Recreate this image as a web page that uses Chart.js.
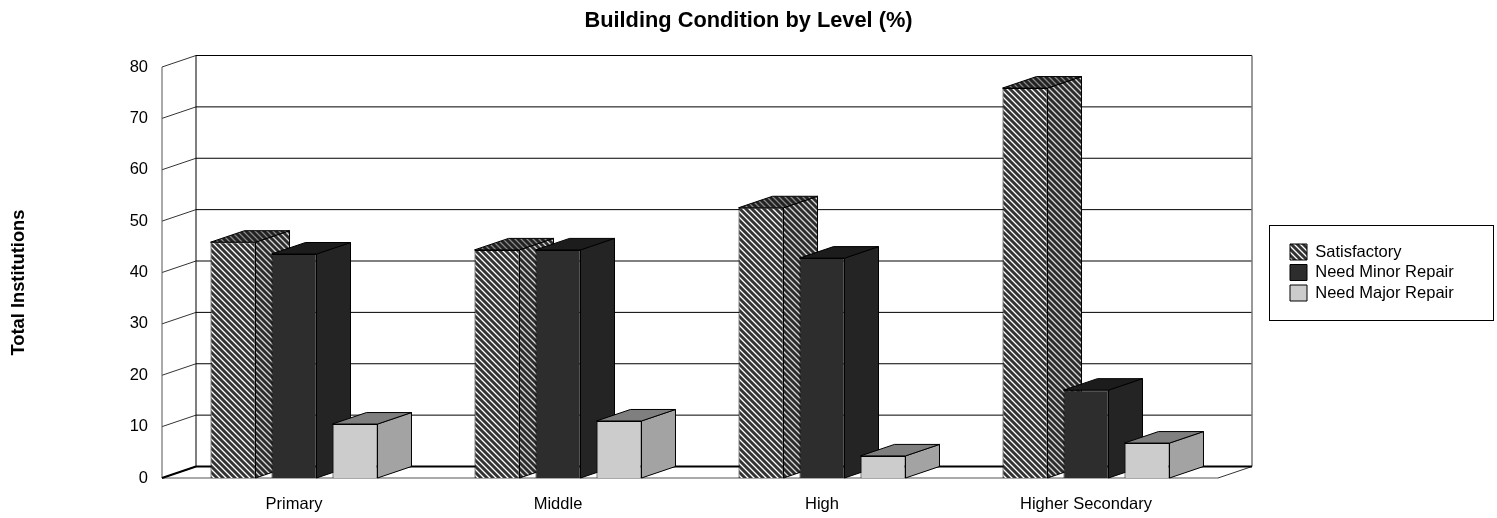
<!DOCTYPE html>
<html>
<head>
<meta charset="utf-8">
<script src="https://cdn.jsdelivr.net/npm/chart.js@4"></script>
<style>
  html, body { margin: 0; background: #fff; }
  #wrap { width: 1497px; height: 518px; }
</style>
</head>
<body>
<div id="wrap"><canvas id="myChart"></canvas></div>
<script>
const categories = ["Primary", "Middle", "High", "Higher Secondary"];
const satisfactory = [45.9, 44.4, 52.6, 75.9];
const minorRepair = [43.6, 44.4, 42.8, 17.1];
const majorRepair = [10.5, 11.1, 4.3, 6.8];

const font = "'Liberation Sans', Arial, sans-serif";
const depthX = 34;
const depthY = -11.5;

// Diagonal hatch used for the Satisfactory bars
function hatch(dark, mid, light) {
  const size = 6;
  const tile = document.createElement("canvas");
  tile.width = size;
  tile.height = size;
  const t = tile.getContext("2d");
  const colors = [light, mid, dark, dark, dark, mid];
  for (let y = 0; y < size; y++) {
    for (let x = 0; x < size; x++) {
      t.fillStyle = colors[((x - y) % size + size) % size];
      t.fillRect(x, y, 1, 1);
    }
  }
  return t.createPattern(tile, "repeat");
}

const faces = [
  { front: hatch("#333333", "#8c8c8c", "#ffffff"), side: hatch("#2b2b2b", "#7a7a7a", "#d6d6d6"), top: hatch("#222222", "#4e4e4e", "#8a8a8a") },
  { front: "#2d2d2d", side: "#242424", top: "#1c1c1c" },
  { front: "#cccccc", side: "#a3a3a3", top: "#7f7f7f" },
];

function poly(ctx, points, fill, stroke) {
  ctx.beginPath();
  points.forEach((p, i) => (i ? ctx.lineTo(p[0], p[1]) : ctx.moveTo(p[0], p[1])));
  ctx.closePath();
  if (fill) {
    ctx.fillStyle = fill;
    ctx.fill();
  }
  if (stroke) {
    ctx.strokeStyle = stroke;
    ctx.stroke();
  }
}

function line(ctx, x1, y1, x2, y2, color, width) {
  ctx.beginPath();
  ctx.moveTo(x1, y1);
  ctx.lineTo(x2, y2);
  ctx.strokeStyle = color;
  ctx.lineWidth = width;
  ctx.stroke();
}

// Back wall, side wall and floor, then the bars from left to right
const box3d = {
  id: "box3d",
  beforeLayout(chart) {
    // The legend keeps a fixed strip so the plot ends where it should
    const legend = chart.legend;
    if (!legend.fixedFit) {
      const fit = legend.fit;
      legend.fit = function () {
        fit.call(this);
        this.width = 279;
      };
      legend.fixedFit = true;
    }
  },
  afterLayout(chart) {
    const legend = chart.legend;
    legend.left = 1286;
    legend.right = 1490;
    legend.top = 225;
    legend.bottom = 320;
  },
  beforeDatasetsDraw(chart) {
    const ctx = chart.ctx;
    const { x, y } = chart.scales;
    const left = x.left;
    const right = x.right;
    const zero = y.getPixelForValue(0);

    ctx.save();
    y.ticks.forEach((tick) => {
      const py = y.getPixelForValue(tick.value);
      if (tick.value > 0) {
        line(ctx, left + depthX, py + depthY, right + depthX, py + depthY, "#000", 1);
      }
      line(ctx, left, py, left + depthX, py + depthY, "#333", 1);
    });
    line(ctx, left, y.getPixelForValue(80), left, zero, "#555", 1);
    line(ctx, left + depthX, y.getPixelForValue(80) + depthY, left + depthX, zero + depthY, "#000", 1);
    line(ctx, right + depthX, y.getPixelForValue(80) + depthY, right + depthX, zero + depthY, "#777", 1.5);
    line(ctx, left, zero, right, zero, "#555", 1);
    line(ctx, right, zero, right + depthX, zero + depthY, "#333", 1);
    line(ctx, left, zero, left + depthX, zero + depthY, "#000", 2);
    line(ctx, left + depthX, zero + depthY, right + depthX, zero + depthY, "#000", 2);

    ctx.lineWidth = 1;
    chart.data.datasets.forEach((dataset, i) => {
      const meta = chart.getDatasetMeta(i);
      meta.data.forEach((bar) => {
        const x1 = bar.x - bar.width / 2;
        const x2 = bar.x + bar.width / 2;
        const yTop = bar.y;
        const yBase = bar.base;
        poly(ctx, [[x2, yTop], [x2 + depthX, yTop + depthY], [x2 + depthX, yBase + depthY], [x2, yBase]], faces[i].side, "#000");
        poly(ctx, [[x1, yTop], [x1 + depthX, yTop + depthY], [x2 + depthX, yTop + depthY], [x2, yTop]], faces[i].top, "#000");
      });
      meta.controller.draw();
    });
    ctx.restore();
    return false;
  },
  afterDraw(chart) {
    const ctx = chart.ctx;
    ctx.save();
    ctx.strokeStyle = "#000";
    ctx.lineWidth = 1;
    ctx.strokeRect(1269.5, 225.5, 224, 95);
    ctx.translate(18.5, 282.5);
    ctx.rotate(-Math.PI / 2);
    ctx.font = "bold 18.3px " + font;
    ctx.fillStyle = "#000";
    ctx.textAlign = "center";
    ctx.textBaseline = "middle";
    ctx.fillText("Total Institutions", 0, 0);
    ctx.restore();
  },
};

const barStyle = { categoryPercentage: 0.693, barPercentage: 0.738, borderColor: "#000", borderWidth: 1 };

new Chart(document.getElementById("myChart"), {
  type: "bar",
  data: {
    labels: categories,
    datasets: [
      { label: "Satisfactory", data: satisfactory, backgroundColor: faces[0].front, ...barStyle },
      { label: "Need Minor Repair", data: minorRepair, backgroundColor: faces[1].front, ...barStyle },
      { label: "Need Major Repair", data: majorRepair, backgroundColor: faces[2].front, ...barStyle },
    ],
  },
  options: {
    responsive: true,
    maintainAspectRatio: false,
    animation: false,
    layout: { padding: 0 },
    plugins: {
      title: {
        display: true,
        text: "Building Condition by Level (%)",
        color: "#000",
        font: { family: font, size: 21.8, weight: "bold" },
        padding: { top: 8, bottom: 32.84 },
      },
      legend: {
        display: true,
        position: "right",
        labels: {
          color: "#000",
          font: { family: font, size: 16.5 },
          boxWidth: 17,
          boxHeight: 16,
          padding: 4,
        },
      },
      tooltip: { enabled: false },
    },
    scales: {
      x: {
        grid: { display: false, drawTicks: false },
        border: { display: false },
        ticks: { color: "#000", font: { family: font, size: 16.5 }, padding: 17, maxRotation: 0 },
        afterFit(scale) {
          scale.height = 40;
        },
      },
      y: {
        min: 0,
        max: 80,
        grid: { display: false, drawTicks: false },
        border: { display: false },
        ticks: { stepSize: 10, color: "#000", font: { family: font, size: 16.5 }, padding: 14 },
        afterFit(scale) {
          scale.width = 162;
        },
      },
    },
  },
  plugins: [box3d],
});
</script>
</body>
</html>
